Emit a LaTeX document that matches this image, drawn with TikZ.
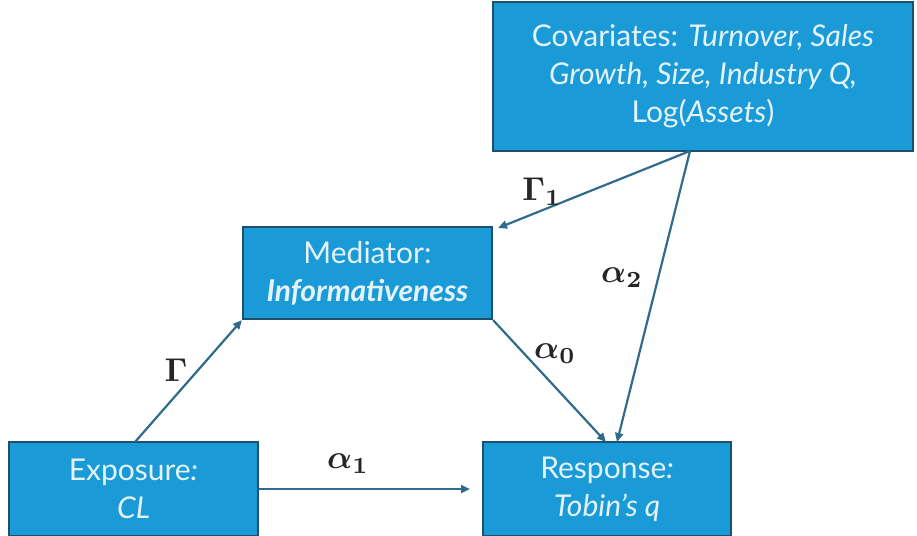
\documentclass[tikz,border=0pt]{standalone}
\usepackage{amsmath,bm}
\usepackage{fontspec}
\setmainfont{Lato}
\usetikzlibrary{arrows.meta}
\definecolor{boxfill}{HTML}{1A9AD6}
\definecolor{boxline}{HTML}{1E4F6B}
\definecolor{boxtext}{HTML}{E4F3FA}
\definecolor{arrowc}{HTML}{2F6B8C}
\newcommand{\coefsym}[1]{\scalebox{3.3}{$#1$}}
\tikzset{
  varbox/.style={draw=boxline,line width=2.2pt,fill=boxfill,text=boxtext,
    align=center,inner sep=0pt,font=\fontsize{30}{38}\selectfont},
  conn/.style={draw=arrowc,line width=2.2pt,-{Triangle[length=9pt,width=8pt]}},
  coef/.style={text=black!85,inner sep=0pt}
}
\begin{document}
\begin{tikzpicture}[x=1pt,y=-1pt]
\useasboundingbox (0,0) rectangle (917,535);
\node[varbox,minimum width=420pt,minimum height=149pt] (cov) at (703,76.5)
  {\raisebox{0pt}[0pt][0pt]{}Covariates: \textit{Turnover, Sales}\\\textit{Growth, Size, Industry Q,}\\Log(\textit{Assets})};
\node[varbox,minimum width=249pt,minimum height=92pt] (med) at (367.5,273)
  {Mediator:\\\textbf{\textit{Informativeness}}};
\node[varbox,minimum width=249pt,minimum height=94pt] (exp) at (133.5,489)
  {Exposure\textit{:}\\\textit{CL}};
\node[varbox,minimum width=248pt,minimum height=94pt] (resp) at (607,489)
  {Response\textit{:}\\\textit{Tobin's q}};
\coordinate (covout) at (690,151);
\coordinate (medin) at (498,228);
\coordinate (expout) at (135,442);
\coordinate (respinA) at (606,442);
\coordinate (respinB) at (617,442);
\coordinate (respleft) at (470,489);
\draw[conn] (expout) -- (med.south west);
\draw[conn] (covout) -- (medin);
\draw[conn] (covout) -- (respinB);
\draw[conn] (med.south east) -- (respinA);
\draw[conn] (exp.east) -- (respleft);
\node[coef] (lG) at (176,370) {\coefsym{\bm{\Gamma}}};
\node[coef] (lG1) at (542,192) {\coefsym{\bm{\Gamma}_{\bm{1}}}};
\node[coef] (la2) at (622,278) {\coefsym{\bm{\alpha}_{\bm{2}}}};
\node[coef] (la0) at (555,354) {\coefsym{\bm{\alpha}_{\bm{0}}}};
\node[coef] (la1) at (348,464) {\coefsym{\bm{\alpha}_{\bm{1}}}};
\end{tikzpicture}
\end{document}
